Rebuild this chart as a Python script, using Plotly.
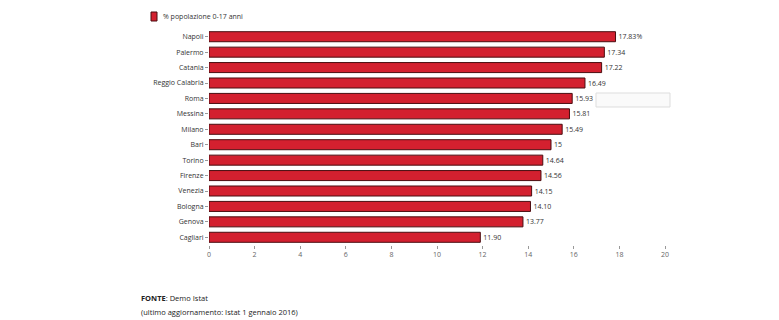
import plotly.graph_objects as go

cities = ["Napoli", "Palermo", "Catania", "Reggio Calabria", "Roma", "Messina", "Milano",
          "Bari", "Torino", "Firenze", "Venezia", "Bologna", "Genova", "Cagliari"]
values = [17.83, 17.34, 17.22, 16.49, 15.93, 15.81, 15.49, 15.0, 14.64, 14.56, 14.15, 14.10, 13.77, 11.90]
value_labels = ["17.83%", "17.34", "17.22", "16.49", "15.93", "15.81", "15.49", "15",
                "14.64", "14.56", "14.15", "14.10", "13.77", "11.90"]
x_ticks = [0, 2, 4, 6, 8, 10, 12, 14, 16, 18, 20]
series_name = "% popolazione 0-17 anni"
bar_color = "#d3202f"
bar_edge = "#4a0d10"

# page has an 8px body margin; figure sized to fit the 779x320 window
OFF = 8
L, T, PW, PH = 209 - OFF, 29 - OFF, 456, 216
W, H = 779 - OFF, 320 - OFF


def px(x):
    return (x - 209) / PW


def py(y):
    return 1 - (y - 29) / PH


fig = go.Figure()
fig.add_trace(go.Bar(
    y=cities, x=values, orientation="h", name=series_name,
    marker=dict(color=bar_color, line=dict(color=bar_edge, width=1)),
    text=value_labels, textposition="outside", cliponaxis=False,
    textfont=dict(size=7, color="#333333", family="Open Sans"),
    showlegend=False,
))

fig.update_layout(
    width=W, height=H,
    margin=dict(l=L, r=W - L - PW, t=T, b=H - T - PH, autoexpand=False),
    paper_bgcolor="white", plot_bgcolor="white",
    font=dict(family="Open Sans", size=7, color="#333333"),
    bargap=0.35,
    xaxis=dict(range=[0, 20], tickvals=x_ticks, showgrid=False, zeroline=False,
               ticks="outside", ticklen=3, tickcolor="#999999", showline=False,
               tickfont=dict(size=7, color="#666666"), automargin=False),
    yaxis=dict(autorange="reversed", showgrid=False, ticks="outside", ticklen=3,
               tickcolor="#999999", showline=False, tickfont=dict(size=7, color="#333333"),
               automargin=False),
    shapes=[
        dict(type="rect", xref="paper", yref="paper",
             x0=px(151), x1=px(157), y0=py(21), y1=py(12),
             fillcolor=bar_color, line=dict(color=bar_edge, width=1)),
        dict(type="rect", xref="paper", yref="paper",
             x0=px(596), x1=px(670), y0=py(107), y1=py(93),
             fillcolor="rgba(250,250,250,0.9)", line=dict(color="#dddddd", width=1)),
    ],
    annotations=[
        dict(text=series_name, xref="paper", yref="paper",
             x=px(161), y=py(16.5), xanchor="left", yanchor="middle",
             showarrow=False, font=dict(size=7, color="#333333")),
        dict(text="<b>FONTE</b>: Demo Istat", xref="paper", yref="paper",
             x=px(139), y=py(298), xanchor="left", yanchor="middle",
             showarrow=False, font=dict(size=7.5, color="#222222")),
        dict(text="(ultimo aggiornamento: Istat 1 gennaio 2016)", xref="paper", yref="paper",
             x=px(139), y=py(312), xanchor="left", yanchor="middle",
             showarrow=False, font=dict(size=7.5, color="#222222")),
    ],
)

fig.write_html("out.html")
